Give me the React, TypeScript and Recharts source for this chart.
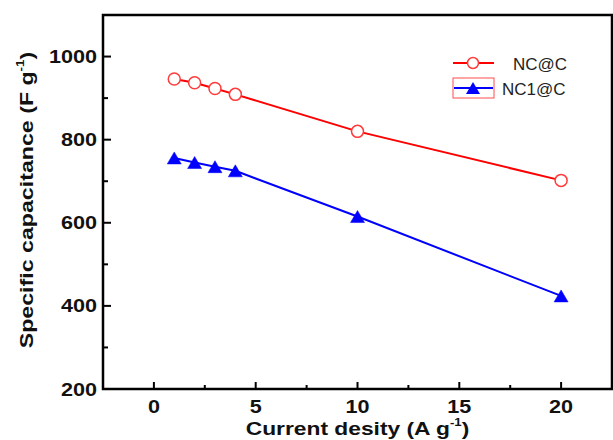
import { Legend, Line, LineChart, ReferenceArea, XAxis, YAxis } from "recharts";

// current density (A/g) and specific capacitance (F/g)
const CURRENT = [1, 2, 3, 4, 10, 20];
const NC_C = [946, 937, 923, 909, 820, 702];
const NC1_C = [756, 745, 735, 725, 615, 424];

const X_TICKS = [0, 2.5, 5, 7.5, 10, 12.5, 15, 17.5, 20];
const X_LABELS = [0, 5, 10, 15, 20];
const Y_TICKS = [200, 300, 400, 500, 600, 700, 800, 900, 1000];
const Y_LABELS = [200, 400, 600, 800, 1000];

const SERIES_NAMES = ["NC@C", "NC1@C"];

const data = CURRENT.map((x, i) => ({ x, nc: NC_C[i], nc1: NC1_C[i] }));

const FONT = "'Liberation Sans', Arial, sans-serif";
const RED = "#ff0000";
const BLUE = "#0000ff";

function XTick({ x, y, payload }: any) {
  const major = X_LABELS.includes(payload.value);
  return (
    <g>
      <line x1={x} x2={x} y1={y} y2={y - (major ? 7 : 4)} stroke="#000" strokeWidth={2} />
      {major && (
        <text
          transform={`translate(${x},${y + 24}) scale(1.2,1)`}
          textAnchor="middle"
          fontFamily={FONT}
          fontWeight="bold"
          fontSize={18}
          fill="#111"
        >
          {payload.value}
        </text>
      )}
    </g>
  );
}

function YTick({ x, y, payload }: any) {
  const major = Y_LABELS.includes(payload.value);
  return (
    <g>
      <line x1={x} x2={x + (major ? 8 : 5)} y1={y} y2={y} stroke="#000" strokeWidth={2} />
      {major && (
        <text
          transform={`translate(${x - 6},${y + 6.5}) scale(1.2,1)`}
          textAnchor="end"
          fontFamily={FONT}
          fontWeight="bold"
          fontSize={18}
          fill="#111"
        >
          {payload.value}
        </text>
      )}
    </g>
  );
}

function XTitle({ viewBox }: any) {
  const cx = viewBox.x + viewBox.width / 2;
  return (
    <text
      transform={`translate(${cx},${viewBox.y + 46}) scale(1.2,1)`}
      textAnchor="middle"
      fontFamily={FONT}
      fontWeight="bold"
      fontSize={19}
      fill="#111"
    >
      Current desity (A g
      <tspan fontSize={11} dy={-9}>-1</tspan>
      <tspan dy={9}>)</tspan>
    </text>
  );
}

function YTitle() {
  return (
    <text
      transform="translate(33,200) rotate(-90) scale(1.22,1)"
      textAnchor="middle"
      fontFamily={FONT}
      fontWeight="bold"
      fontSize={19}
      fill="#111"
    >
      Specific capacitance (F g
      <tspan fontSize={11} dy={-9}>-1</tspan>
      <tspan dy={9}>)</tspan>
    </text>
  );
}

function CircleDot({ cx, cy }: any) {
  return <circle cx={cx} cy={cy} r={6} fill="#fff" stroke="#ff3b3b" strokeWidth={1.5} />;
}

function TriangleDot({ cx, cy }: any) {
  const w = 7;
  const h = 6;
  return (
    <polygon
      points={`${cx - w},${cy + h} ${cx + w},${cy + h} ${cx},${cy - h}`}
      fill={BLUE}
      stroke={BLUE}
      strokeWidth={0.5}
    />
  );
}

function LegendBox() {
  return (
    <svg width={160} height={56} style={{ display: "block" }}>
      <line x1={3} x2={44} y1={13} y2={13} stroke={RED} strokeWidth={2} />
      <circle cx={23} cy={13} r={5.5} fill="#fff" stroke="#ff3b3b" strokeWidth={1.5} />
      <text x={63} y={20} fontFamily={FONT} fontSize={17} fill="#222">
        {SERIES_NAMES[0]}
      </text>
      <rect x={3} y={28} width={41} height={20} fill="none" stroke="#ff4d4d" strokeWidth={1} />
      <line x1={4} x2={43} y1={38} y2={38} stroke={BLUE} strokeWidth={2} />
      <polygon points="16,44 30,44 23,32" fill={BLUE} />
      <text x={52} y={44.5} fontFamily={FONT} fontSize={17} fill="#222">
        {SERIES_NAMES[1]}
      </text>
    </svg>
  );
}

export default function App() {
  return (
    <div style={{ position: "absolute", left: 0, top: 0, background: "#fff" }}>
      <LineChart width={613} height={440} data={data} margin={{ top: 15, right: 1, bottom: 0, left: 0 }}>
        <ReferenceArea
          x1={-2.5}
          x2={22.5}
          y1={200}
          y2={1100}
          fill="none"
          stroke="#000"
          strokeWidth={2.5}
          ifOverflow="visible"
        />
        <XAxis
          type="number"
          dataKey="x"
          domain={[-2.5, 22.5]}
          ticks={X_TICKS}
          interval={0}
          axisLine={false}
          tickLine={false}
          tickSize={0}
          tickMargin={0}
          tick={<XTick />}
          height={51}
          label={{ content: (p: any) => <XTitle {...p} /> }}
        />
        <YAxis
          type="number"
          domain={[200, 1100]}
          ticks={Y_TICKS}
          interval={0}
          axisLine={false}
          tickLine={false}
          tickSize={0}
          tickMargin={0}
          tick={<YTick />}
          width={103}
          label={{ content: () => <YTitle /> }}
        />
        <Legend
          layout="vertical"
          align="center"
          verticalAlign="middle"
          wrapperStyle={{ position: "absolute", left: 450, top: 50, width: 160, height: 56 }}
          content={() => <LegendBox />}
        />
        <Line
          dataKey="nc"
          name={SERIES_NAMES[0]}
          stroke={RED}
          strokeWidth={2}
          dot={<CircleDot />}
          isAnimationActive={false}
        />
        <Line
          dataKey="nc1"
          name={SERIES_NAMES[1]}
          stroke={BLUE}
          strokeWidth={2}
          dot={<TriangleDot />}
          isAnimationActive={false}
        />
      </LineChart>
    </div>
  );
}
